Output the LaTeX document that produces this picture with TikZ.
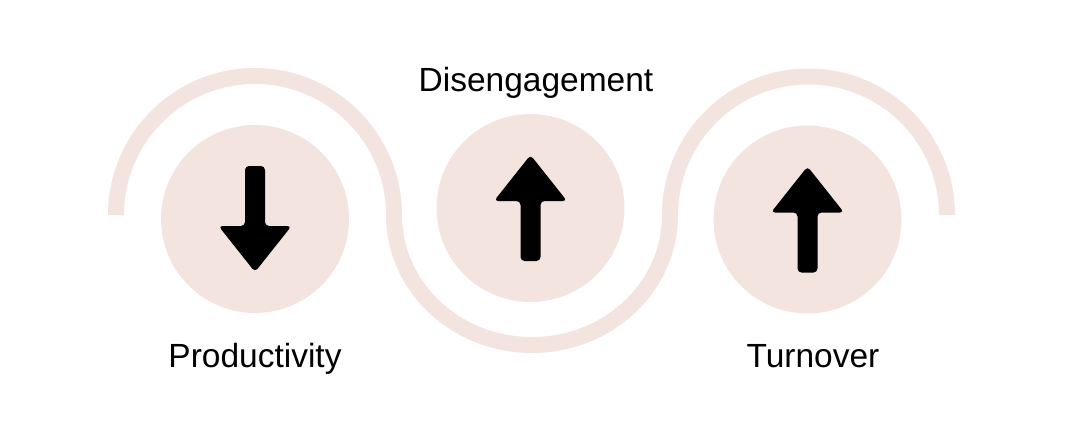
\documentclass[tikz,border=0pt]{standalone}
\usepackage{fontspec}
\setmainfont{Liberation Sans}
\usepackage{xcolor}
\usetikzlibrary{positioning, calc}
\definecolor{blush}{RGB}{243,228,224}

\begin{document}
\begin{tikzpicture}[x=1pt, y=-1pt,
  disc/.style={circle, fill=blush, minimum size=188pt, inner sep=0pt},
  caption/.style={font=\fontsize{33.5}{40}\selectfont, anchor=base, inner sep=0pt},
  pics/trendarrow/.style={code={
    \fill[black, rounded corners=4pt] (0,53) -- (-10,53) -- (-10,-7) -- (-36.5,-7) -- (0,-53)
      -- (36.5,-7) -- (10,-7) -- (10,53) -- cycle;}}]
\useasboundingbox (0,0) rectangle (1080,426);

% wave behind the discs
\draw[blush, line width=16pt] (116,215) arc[start angle=180, end angle=360, radius=139]
  arc[start angle=180, end angle=0, x radius=138, y radius=130]
  arc[start angle=180, end angle=360, radius=138.5];

\node[disc] (prod) at (255,219) {};
\node[disc] (dis) at (530.5,208) {};
\node[disc] (turn) at (807.5,219.5) {};

\pic[rotate=180] at (prod) {trendarrow};
\pic at (dis) {trendarrow};
\pic at (turn) {trendarrow};

\node[caption] (prodlabel) at (255,367) {Productivity};
\node[caption] (dislabel) at (536,91) {Disengagement};
\node[caption] (turnlabel) at (813,367) {Turnover};
\end{tikzpicture}
\end{document}
